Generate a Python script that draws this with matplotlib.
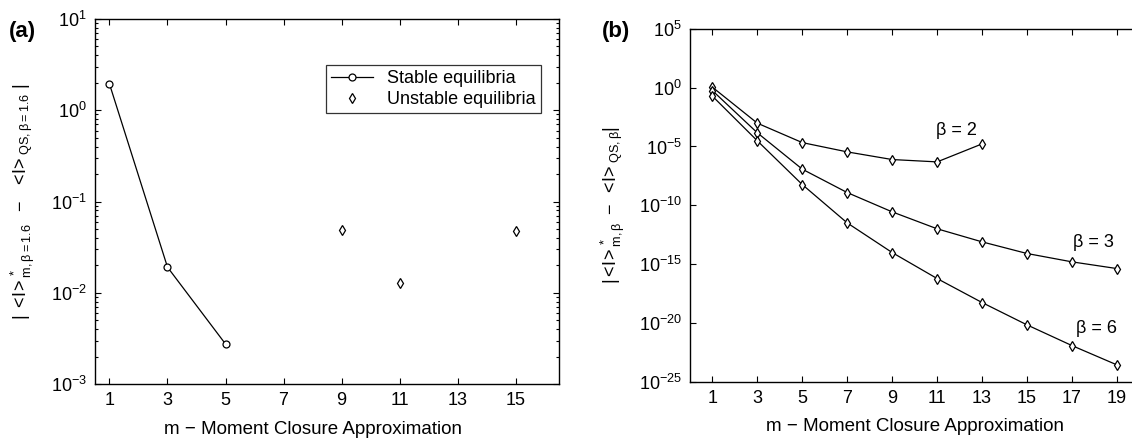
import matplotlib
matplotlib.use("Agg")
import matplotlib.pyplot as plt
import numpy as np
from matplotlib.ticker import FixedLocator, NullLocator, LogFormatterSciNotation

plt.rcParams['font.family'] = ['Liberation Sans', 'DejaVu Sans']
plt.rcParams['mathtext.fontset'] = 'custom'
plt.rcParams['mathtext.rm'] = 'Liberation Sans'
plt.rcParams['mathtext.it'] = 'Liberation Sans'
plt.rcParams['mathtext.default'] = 'regular'
plt.rcParams['font.size'] = 13

# panel (a) data
m_stable = [1, 3, 5]
err_stable = [1.94, 0.0191, 0.00275]
m_unstable = [9, 11, 15]
err_unstable = [0.0487, 0.0128, 0.048]

# panel (b) data (log10 of error)
m_b = [1, 3, 5, 7, 9, 11, 13, 15, 17, 19]
log_beta2 = [0.04, -3.02, -4.67, -5.46, -6.11, -6.31, -4.78]
log_beta3 = [-0.25, -3.84, -6.93, -8.92, -10.56, -12.0, -13.11, -14.1, -14.81, -15.38]
log_beta6 = [-0.72, -4.52, -8.24, -11.5, -14.02, -16.23, -18.27, -20.17, -21.93, -23.57]

fig = plt.figure(figsize=(11.32, 4.41), dpi=100)


def style_axes(ax):
    ax.tick_params(which='both', direction='in', top=True, right=True, width=0.8)
    ax.tick_params(which='major', length=4, pad=6)
    ax.tick_params(which='minor', length=2)
    for s in ax.spines.values():
        s.set_linewidth(1.0)


# ---- (a)
ax1 = fig.add_axes([0.0839, 0.129, 0.410, 0.828])
ax1.set_yscale('log')
ax1.plot(m_stable, err_stable, '-o', color='k', lw=0.9, ms=5, mfc='white', mew=0.9,
         label='Stable equilibria')
ax1.plot(m_unstable, err_unstable, 'd', color='k', ms=5, mfc='white', mew=0.9, ls='none',
         label='Unstable equilibria')
ax1.set_xlim(0.5, 16.5)
ax1.set_ylim(1e-3, 1e1)
ax1.set_xticks(range(1, 16, 2))
style_axes(ax1)
ax1.set_xlabel('m \u2212 Moment Closure Approximation', fontsize=13.5)
ax1.xaxis.set_label_coords(0.47, -0.1)
ax1.set_ylabel(r'$|\ {<}\!I\!{>}^*_{m,\beta=1.6}\ \ -\ \ {<}\!I\!{>}_{QS,\beta=1.6}\ |$',
               labelpad=10)
leg = ax1.legend(loc='upper right', bbox_to_anchor=(0.961, 0.874), frameon=True,
                 fancybox=False, edgecolor='k', handlelength=2.3, borderpad=0.3,
                 labelspacing=0.2, borderaxespad=0, fontsize=13)
leg.get_frame().set_linewidth(0.9)
fig.text(0.008, 0.915, '(a)', fontsize=16, fontweight='bold')

# ---- (b)
ax2 = fig.add_axes([0.6095, 0.1345, 0.397, 0.80])
ax2.set_yscale('log')
for logs in (log_beta2, log_beta3, log_beta6):
    ax2.plot(m_b[:len(logs)], np.power(10.0, logs), '-d', color='k', lw=0.9, ms=5,
             mfc='white', mew=0.9)
ax2.set_xlim(0, 20)
ax2.set_ylim(1e-25, 1e5)
ax2.set_xticks(range(1, 20, 2))
ax2.yaxis.set_major_locator(FixedLocator([1e-25, 1e-20, 1e-15, 1e-10, 1e-5, 1e0, 1e5]))
ax2.yaxis.set_major_formatter(LogFormatterSciNotation())
ax2.yaxis.set_minor_locator(NullLocator())
style_axes(ax2)
ax2.set_xlabel('m \u2212 Moment Closure Approximation', fontsize=13.5, labelpad=8)
ax2.set_ylabel(r'$|{<}\!I\!{>}^*_{m,\beta}\ -\ {<}\!I\!{>}_{QS,\beta}|$', labelpad=8)
ax2.text(12.78, 10**-4.01, '\u03b2 = 2', ha='right', va='baseline', fontsize=13)
ax2.text(18.87, 10**-13.51, '\u03b2 = 3', ha='right', va='baseline', fontsize=13)
ax2.text(19.0, 10**-20.85, '\u03b2 = 6', ha='right', va='baseline', fontsize=13)
fig.text(0.532, 0.915, '(b)', fontsize=16, fontweight='bold')

fig.savefig('out.png', dpi=100)
